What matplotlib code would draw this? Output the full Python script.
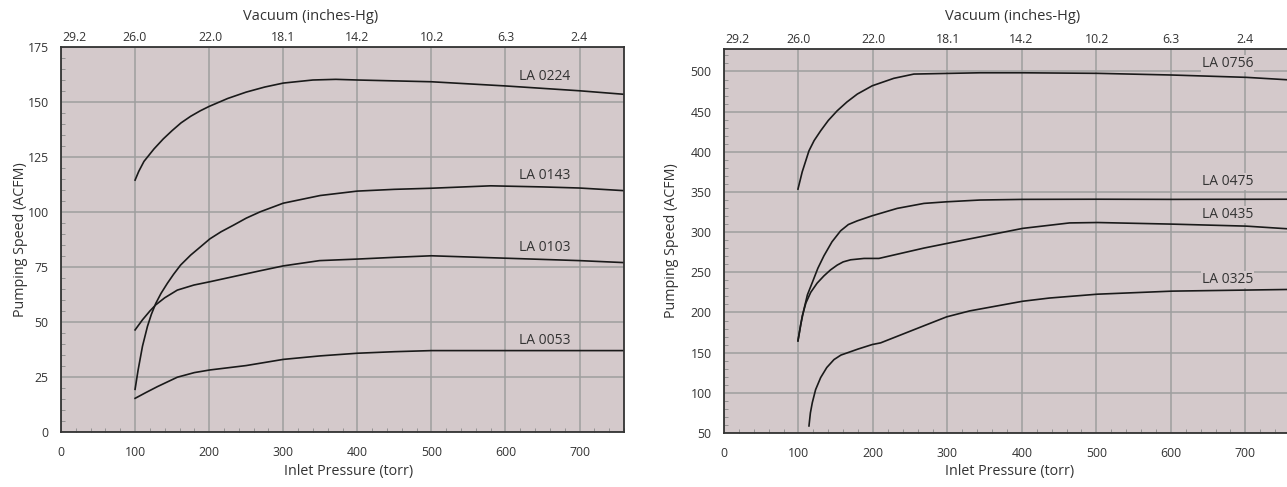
import matplotlib
matplotlib.use("Agg")
import matplotlib.pyplot as plt
from matplotlib.ticker import MultipleLocator

plt.rcParams['font.family'] = ['Open Sans', 'DejaVu Sans']

# small-pump chart (torr, ACFM)
la0224_x = [100, 105, 112, 125.6, 138, 150, 162, 175, 188, 200, 225, 250, 275, 300, 340, 371, 400, 500, 600, 700, 760]
la0224_y = [114.5, 118.5, 123, 128.7, 133.2, 137, 140.5, 143.5, 146, 148, 151.6, 154.5, 156.8, 158.6, 160, 160.3, 160, 159.2, 157.3, 155.1, 153.5]
la0143_x = [100, 104, 110, 116.7, 122, 128, 135, 143.6, 152, 161.5, 175, 188.4, 201, 216, 233.3, 250, 269, 300, 350, 400, 450, 500, 580, 650, 700, 760]
la0143_y = [19.4, 28, 39, 48, 53.5, 58.5, 63, 67.6, 71.7, 75.9, 80.4, 84.2, 87.8, 91, 94.1, 97.2, 100.1, 104, 107.5, 109.5, 110.3, 110.8, 111.9, 111.4, 110.9, 109.7]
la0103_x = [100, 110, 120, 127.9, 140, 157, 179.4, 201, 235, 269, 300, 349, 400, 450, 500, 600, 700, 760]
la0103_y = [46.4, 51, 55, 57.8, 61, 64.5, 66.8, 68.3, 70.8, 73.3, 75.5, 77.9, 78.6, 79.4, 80.1, 79, 77.9, 77]
la0053_x = [100, 115, 130, 157, 180, 201, 250, 300, 350, 400, 450, 500, 520, 600, 700, 760]
la0053_y = [15.3, 18, 20.6, 24.9, 27, 28.2, 30.2, 33, 34.6, 35.8, 36.5, 37, 37, 37, 37, 37]

# large-pump chart (torr, ACFM)
la0756_x = [99.3, 105, 114.1, 121, 129.8, 140, 152, 165, 179, 199, 228, 255, 343.6, 401, 501.6, 602, 701.6, 760]
la0756_y = [353.6, 375, 401.3, 414, 426.2, 439, 451.1, 462, 471.9, 482.2, 491.5, 496.8, 498.4, 498.4, 497.7, 495.6, 492.7, 489.5]
la0475_x = [99.3, 103, 107.4, 112, 118.6, 126, 134.2, 145, 156.6, 167, 179, 199, 232.6, 268.5, 299, 343.6, 401, 501.6, 602, 760]
la0475_y = [164.7, 185, 204.2, 222, 237.4, 255, 270.6, 288, 301.7, 309.5, 314.1, 320.4, 329.6, 335.8, 337.8, 340, 340.8, 341, 340.8, 341]
la0435_x = [99.3, 105.1, 110, 116.4, 125, 134.2, 143, 152, 160, 170, 188, 208, 268.5, 321, 401, 464, 501.6, 602, 701.6, 760]
la0435_y = [164.7, 195.8, 212, 225, 236.5, 245.6, 253, 259, 263, 265.6, 267.3, 267.3, 280.2, 290, 304.7, 311.5, 312, 310, 307.5, 304]
la0325_x = [114.1, 116, 118.6, 123, 129.8, 138, 147.7, 157, 165.6, 180, 199, 210.3, 268.5, 299, 330, 401, 437, 501.6, 602, 760]
la0325_y = [58.8, 75, 87.9, 104, 119, 131.5, 141.4, 147, 149.8, 154.5, 160.1, 162.2, 183.5, 194.6, 202, 214, 218, 222.8, 226.6, 228.7]

x_ticks = [0, 100, 200, 300, 400, 500, 600, 700]
vacuum_labels = ['29.2', '26.0', '22.0', '18.1', '14.2', '10.2', '6.3', '2.4']

bg = '#d4c9cb'
grid_c = '#9e9e9e'
text_c = '#333333'
line_c = '#1a1a1a'

fig = plt.figure(figsize=(12.87, 4.87), dpi=100)


def setup(ax, ylim, yticks, yminor, ylab_x, xlab_x, xlab_y, vac_x, vac_y):
    ax.set_facecolor(bg)
    ax.set_xlim(0, 760)
    ax.set_ylim(*ylim)
    ax.set_xticks(x_ticks)
    ax.set_yticks(yticks)
    ax.xaxis.set_minor_locator(MultipleLocator(20))
    ax.yaxis.set_minor_locator(MultipleLocator(yminor))
    ax.grid(True, which='major', color=grid_c, linewidth=1.1, zorder=1)
    ax.set_axisbelow(True)
    ax.tick_params(which='major', length=0, labelsize=8.8, labelcolor=text_c)
    ax.tick_params(axis='y', which='major', pad=9)
    ax.tick_params(axis='x', which='major', pad=10)
    ax.tick_params(which='minor', direction='in', length=3, width=0.6, color='#8a8a8a')
    for s in ax.spines.values():
        s.set_color('#333333')
        s.set_linewidth(1.3)
    ax.set_ylabel('Pumping Speed (ACFM)', fontsize=10.3, color=text_c)
    ax.yaxis.set_label_coords(ylab_x, 0.5)
    ax.set_xlabel('Inlet Pressure (torr)', fontsize=10.3, color=text_c)
    ax.xaxis.set_label_coords(xlab_x, xlab_y)

    top = ax.twiny()
    top.set_xlim(0, 760)
    top.set_xticks([(29.92 - float(v)) * 25.4 for v in vacuum_labels])
    top.set_xticklabels(vacuum_labels)
    top.tick_params(length=0, labelsize=8.8, labelcolor=text_c, pad=2)
    for s in top.spines.values():
        s.set_visible(False)
    top.set_xlabel('Vacuum (inches-Hg)', fontsize=10.5, color=text_c)
    top.xaxis.set_label_coords(vac_x, vac_y)


def label(ax, x, y, s):
    ax.text(x, y, s, fontsize=10, color=text_c, ha='center', va='center', zorder=3,
            bbox=dict(facecolor=bg, edgecolor='none', pad=0.8))


# left chart
ax1 = fig.add_axes([61 / 1287, 55 / 487, 563 / 1287, 385 / 487])
setup(ax1, (0, 175), [0, 25, 50, 75, 100, 125, 150, 175], 5, -0.059, 0.51, -0.083, 0.444, 1.070)
for xs, ys in [(la0224_x, la0224_y), (la0143_x, la0143_y), (la0103_x, la0103_y), (la0053_x, la0053_y)]:
    ax1.plot(xs, ys, color=line_c, linewidth=1.2, zorder=2, solid_joinstyle='round')
label(ax1, 653, 161.8, 'LA 0224')
label(ax1, 653, 116.8, 'LA 0143')
label(ax1, 653, 84, 'LA 0103')
label(ax1, 653, 41.8, 'LA 0053')

# right chart
ax2 = fig.add_axes([724 / 1287, 54 / 487, 566 / 1287, 384 / 487])
setup(ax2, (50, 528), [50, 100, 150, 200, 250, 300, 350, 400, 450, 500], 10, -0.080, 0.505, -0.081, 0.51, 1.075)
for xs, ys in [(la0756_x, la0756_y), (la0475_x, la0475_y), (la0435_x, la0435_y), (la0325_x, la0325_y)]:
    ax2.plot(xs, ys, color=line_c, linewidth=1.2, zorder=2, solid_joinstyle='round')
label(ax2, 676, 510, 'LA 0756')
label(ax2, 676, 362.7, 'LA 0475')
label(ax2, 676, 322, 'LA 0435')
label(ax2, 676, 241, 'LA 0325')

fig.savefig('out.png', dpi=100, facecolor='white')
